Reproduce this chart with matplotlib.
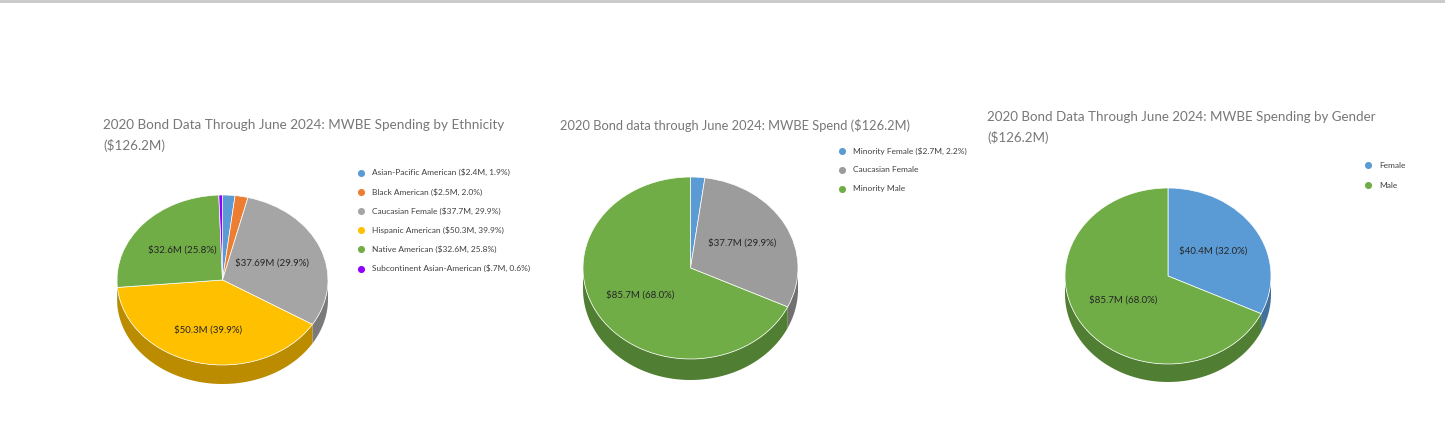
import numpy as np
import matplotlib.pyplot as plt

W, H = 1445, 434
FONT = "Lato"

# ---- data ----
eth_names = ["Asian-Pacific American ($2.4M, 1.9%)", "Black American ($2.5M, 2.0%)",
             "Caucasian Female ($37.7M, 29.9%)", "Hispanic American ($50.3M, 39.9%)",
             "Native American ($32.6M, 25.8%)", "Subcontinent Asian-American ($.7M, 0.6%)"]
eth_values = [2.4, 2.5, 37.7, 50.3, 32.6, 0.7]
eth_slice_text = ["", "", "$37.69M (29.9%)", "$50.3M (39.9%)", "$32.6M (25.8%)", ""]

spend_names = ["Minority Female ($2.7M, 2.2%)", "Caucasian Female", "Minority Male"]
spend_values = [2.7, 37.7, 85.7]
spend_slice_text = ["", "$37.7M (29.9%)", "$85.7M (68.0%)"]

gender_names = ["Female", "Male"]
gender_values = [40.4, 85.7]
gender_slice_text = ["$40.4M (32.0%)", "$85.7M (68.0%)"]

titles = [["2020 Bond Data Through June 2024: MWBE Spending by Ethnicity", "($126.2M)"],
          ["2020 Bond data through June 2024: MWBE Spend ($126.2M)"],
          ["2020 Bond Data Through June 2024: MWBE Spending by Gender", "($126.2M)"]]

BLUE, ORANGE, GRAY, YELLOW, GREEN, PURPLE = "#5b9bd5", "#ed7d31", "#a5a5a5", "#ffc000", "#70ad47", "#8f00ff"
DARK = {BLUE: "#41719c", ORANGE: "#ae5a21", GRAY: "#7a7a7a", YELLOW: "#bc8c00",
        GREEN: "#507e32", PURPLE: "#6200b0"}

eth_colors = [BLUE, ORANGE, GRAY, YELLOW, GREEN, PURPLE]
spend_colors = [BLUE, "#9c9c9c", GREEN]
gender_colors = [BLUE, GREEN]


def pie3d(fig, values, colors, cx, cy, a, b, depth):
    # axes box covers the top ellipse plus the side wall
    ax = fig.add_axes([(cx - a) / W, (H - (cy + b + depth)) / H, 2 * a / W, (2 * b + depth) / H])
    ax.pie(values, colors=colors, startangle=90, counterclock=False, radius=1,
           wedgeprops=dict(edgecolor="white", linewidth=0.5))
    d = depth / b
    frac = np.cumsum([0] + list(values)) / sum(values)
    ang = np.pi / 2 - 2 * np.pi * frac
    for i, c in enumerate(colors):
        lo, hi = max(ang[i + 1], -np.pi), min(ang[i], 0)
        if lo >= hi:
            continue
        t = np.linspace(lo, hi, 80)
        x, y = np.cos(t), np.sin(t)
        ax.fill(np.concatenate([x, x[::-1]]), np.concatenate([y, (y - d)[::-1]]),
                color=DARK.get(c, "#707070"), zorder=0.5, lw=0)
    ax.set_aspect("auto")
    ax.set_xlim(-1, 1)
    ax.set_ylim(-1 - d, 1)
    ax.axis("off")
    return ax


fig = plt.figure(figsize=(W / 100, H / 100), dpi=100)

pie3d(fig, eth_values, eth_colors, 222.5, 280, 105.5, 85, 19)
pie3d(fig, spend_values, spend_colors, 690.5, 268, 107.5, 91, 21)
pie3d(fig, gender_values, gender_colors, 1168, 276, 103, 88, 18)

ov = fig.add_axes([0, 0, 1, 1])
ov.set_xlim(0, W)
ov.set_ylim(H, 0)
ov.axis("off")
ov.plot([0, W], [1, 1], color="#c8c8c8", lw=2)

# titles, one text per line
for lines, x, y0, sz in [(titles[0], 103, 125, 9.7), (titles[1], 560, 125, 9.3), (titles[2], 987, 117, 9.6)]:
    for k, line in enumerate(lines):
        ov.text(x, y0 + 21 * k, line, fontsize=sz, color="#777777", family=FONT, va="center")

# slice labels
lab = dict(fontsize=7, color="#262626", family=FONT, ha="center", va="center")
label_pos = [
    (eth_slice_text, [None, None, (272, 263), (208, 330), (182, 250), None]),
    (spend_slice_text, [None, (742, 243), (640, 295)]),
    (gender_slice_text, [(1213, 251), (1123, 300)]),
]
for texts, spots in label_pos:
    for txt, xy in zip(texts, spots):
        if txt:
            ov.text(xy[0], xy[1], txt, **lab)


# legends
def legend(names, colors, x, y0, step):
    for i, (n, c) in enumerate(zip(names, colors)):
        y = y0 + i * step
        ov.scatter([x], [y], s=26, color=c, lw=0)
        ov.text(x + 11, y, n, fontsize=6, color="#404040", family=FONT, va="center")


legend(eth_names, eth_colors, 360.5, 172.5, 19.2)
legend(spend_names, spend_colors, 842, 151, 19)
legend(gender_names, gender_colors, 1368, 165, 20)

fig.savefig("out.png", dpi=100, facecolor="white")
